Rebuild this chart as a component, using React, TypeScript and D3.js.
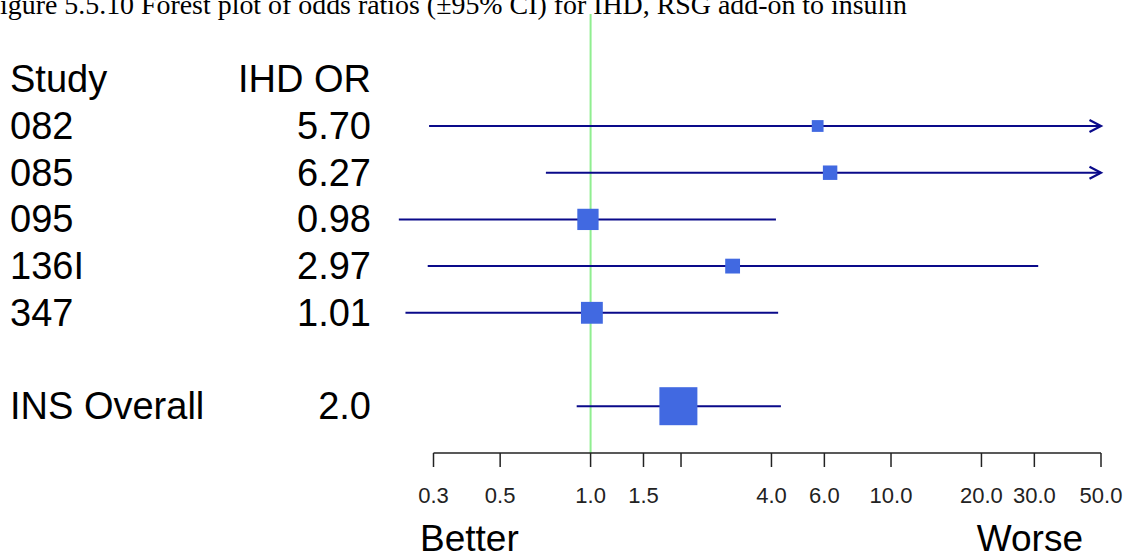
import React from "react";
import * as d3 from "d3";

const titleText = "Figure 5.5.10 Forest plot of odds ratios (±95% CI) for IHD, RSG add-on to insulin";
const studies = ["082", "085", "095", "136I", "347", "INS Overall"];
const orLabels = ["5.70", "6.27", "0.98", "2.97", "1.01", "2.0"];
const orValues = [5.7, 6.27, 0.98, 2.97, 1.01, 1.96];
const lowerCI = [0.29, 0.71, 0.23, 0.287, 0.242, 0.899];
const upperCI = [120, 90, 4.14, 30.9, 4.21, 4.3];
const boxWeight = [0.31, 0.38, 0.56, 0.39, 0.575, 1.0];
const rowIndex = [0, 1, 2, 3, 4, 6];
const tickValues = [0.3, 0.5, 1, 1.5, 2, 4, 6, 10, 20, 30, 50];
const tickLabels = ["0.3", "0.5", "1.0", "1.5", "", "4.0", "6.0", "10.0", "20.0", "30.0", "50.0"];

const W = 1125;
const H = 560;
const FONT = "'Liberation Sans', Arial, sans-serif";

export default function App() {
  const x = d3.scaleLog().domain([0.3, 50]).range([433.5, 1101]);
  const y = d3.scaleLinear().domain([0, 6]).range([126, 406.2]);
  const box = d3.scaleLinear().domain([0, 1]).range([0, 38]);
  const axisY = 453;
  const xMax = x.domain()[1];
  const navy = "#0a0a8a";

  return (
    <div style={{ position: "fixed", left: 0, top: 0 }}>
      <svg width={W} height={H} style={{ display: "block", background: "#fff" }}>
        <text x={-15.5} y={13.5} fontFamily="'Liberation Serif', 'Times New Roman', serif" fontSize={27.9} fill="#000">
          {titleText}
        </text>
        {/* reference line at OR = 1 */}
        <line x1={x(1)} x2={x(1)} y1={14} y2={axisY} stroke="#90EE90" strokeWidth={2} />

        {/* header */}
        <text x={10} y={y(-1) + 13} fontFamily={FONT} fontSize={38} fill="#000">Study</text>
        <text x={371} y={y(-1) + 13} fontFamily={FONT} fontSize={38} fill="#000" textAnchor="end">IHD OR</text>

        {studies.map((s, i) => {
          const cy = y(rowIndex[i]);
          const lo = x(lowerCI[i]);
          const clipped = upperCI[i] > xMax;
          const hi = x(clipped ? xMax : upperCI[i]);
          const side = box(boxWeight[i]);
          const cx = x(orValues[i]);
          return (
            <g key={s}>
              <text x={10} y={cy + 13} fontFamily={FONT} fontSize={38} fill="#000">{s}</text>
              <text x={371} y={cy + 13} fontFamily={FONT} fontSize={38} fill="#000" textAnchor="end">{orLabels[i]}</text>
              <line x1={lo} x2={hi} y1={cy} y2={cy} stroke={navy} strokeWidth={2} />
              {clipped && (
                <path
                  d={`M${hi - 11.5},${cy - 6}L${hi},${cy}L${hi - 11.5},${cy + 6}`}
                  fill="none"
                  stroke={navy}
                  strokeWidth={2.2}
                />
              )}
              <rect x={cx - side / 2} y={cy - side / 2} width={side} height={side} fill="#4169E1" />
            </g>
          );
        })}

        {/* axis */}
        <line x1={x(0.3)} x2={x(50)} y1={axisY} y2={axisY} stroke="#222" strokeWidth={1.5} />
        {tickValues.map((t, i) => (
          <g key={t}>
            <line x1={x(t)} x2={x(t)} y1={axisY} y2={axisY + 14} stroke="#222" strokeWidth={1.5} />
            <text x={x(t)} y={503} fontFamily={FONT} fontSize={22} fill="#222" textAnchor="middle">
              {tickLabels[i]}
            </text>
          </g>
        ))}
        <text x={420} y={551} fontFamily={FONT} fontSize={37} fill="#000">Better</text>
        <text x={1083} y={551} fontFamily={FONT} fontSize={37} fill="#000" textAnchor="end">Worse</text>
      </svg>
    </div>
  );
}
